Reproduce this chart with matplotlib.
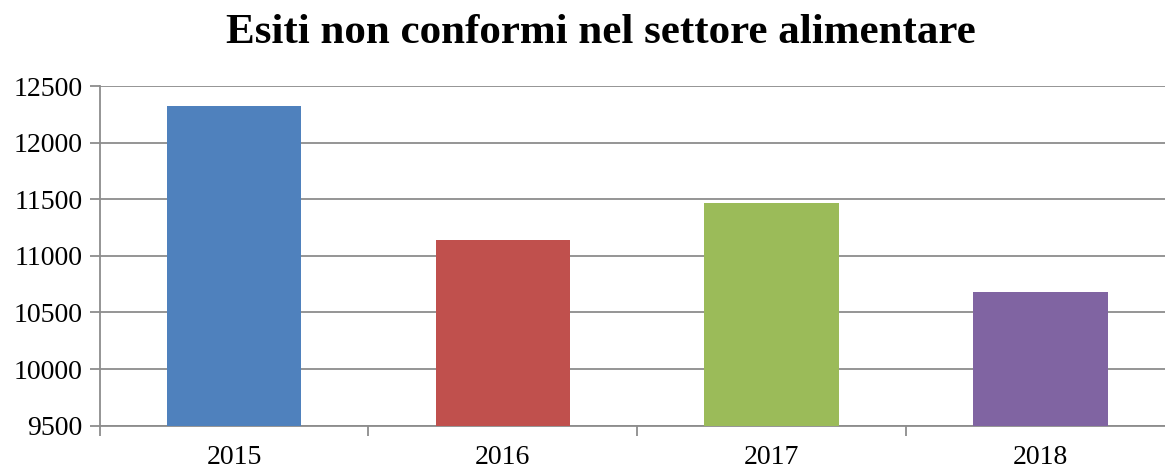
import matplotlib
matplotlib.use('Agg')
from matplotlib import pyplot as plt

years = ['2015', '2016', '2017', '2018']
values = [12323, 11140, 11466, 10677]
colors = ['#4F81BD', '#C0504D', '#9BBB59', '#8064A2']
y_ticks = [9500, 10000, 10500, 11000, 11500, 12000, 12500]

plt.rcParams['font.family'] = ['Liberation Serif', 'DejaVu Serif']

fig = plt.figure(figsize=(11.65, 4.7), dpi=100)
# plot area runs slightly past the right edge of the image, as in the original
ax = fig.add_axes([99.5 / 1165, 1 - 425.7 / 470, 1075.5 / 1165, (425.7 - 86) / 470])

x = range(len(years))
ax.bar(x, values, width=0.5, color=colors, zorder=3)

ax.set_xlim(-0.5, len(years) - 0.5)
ax.set_ylim(9500, 12500)
ax.set_yticks(y_ticks)
ax.set_yticklabels([str(t) for t in y_ticks])
ax.set_xticks(list(x))
ax.set_xticklabels(years)
ax.set_xticks([i + 0.5 for i in range(-1, len(years))], minor=True)

ax.grid(axis='y', color='#8c8c8c', linewidth=1.3, zorder=0)
for side in ['top', 'right']:
    ax.spines[side].set_visible(False)
for side in ['left', 'bottom']:
    ax.spines[side].set_color('#8c8c8c')
    ax.spines[side].set_linewidth(1.3)

ax.tick_params(axis='y', which='major', length=7, width=1.3, color='#8c8c8c',
               labelsize=20, pad=5)
ax.tick_params(axis='x', which='major', length=0, labelsize=20, pad=14)
ax.tick_params(axis='x', which='minor', length=7, width=1.3, color='#8c8c8c')

fig.text(601 / 1165, 1 - 33 / 470, 'Esiti non conformi nel settore alimentare',
         ha='center', va='center', fontsize=31, fontweight='bold')

fig.savefig('out.png', dpi=100)
